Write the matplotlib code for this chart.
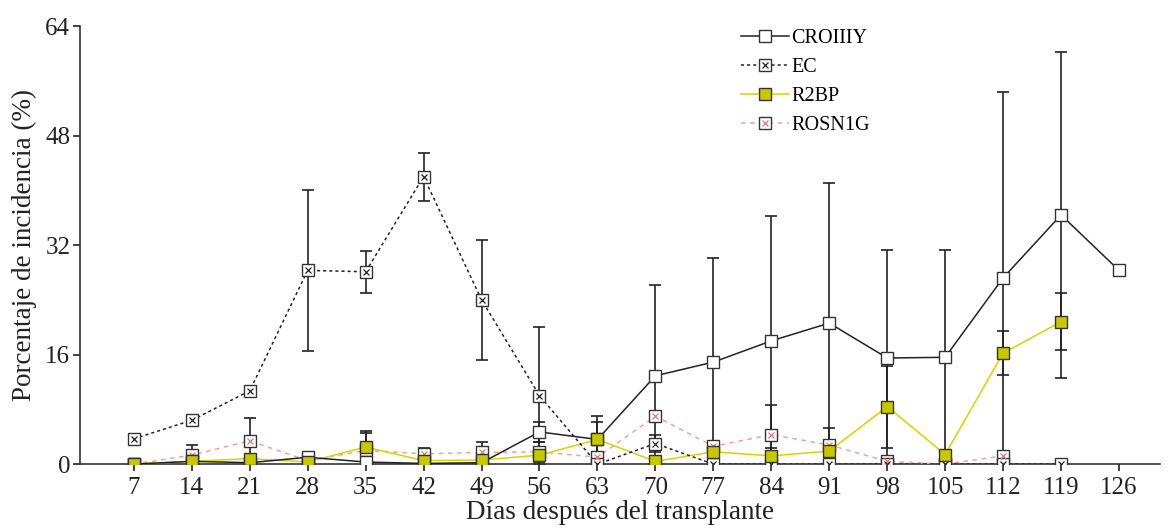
import matplotlib
matplotlib.use("Agg")
import matplotlib.pyplot as plt
from matplotlib.lines import Line2D
from matplotlib.legend_handler import HandlerTuple
import numpy as np

# days after transplant
dias = [7, 14, 21, 28, 35, 42, 49, 56, 63, 70, 77, 84, 91, 98, 105, 112, 119, 126]

croiiiy = [0, 0.4, 0.2, 1.0, 0.3, 0.1, 0.2, 4.7, 3.6, 12.9, 14.9, 18.0, 20.6, 15.5, 15.6, 27.2, 36.4, 28.3]
croiiiy_err = [0, 0, 0, 0, 0, 0, 0, 1.5, 3.4, 13.3, 15.2, 18.2, 20.5, 15.8, 15.7, 27.2, 23.8, 0]

ec = [3.7, 6.4, 10.7, 28.3, 28.1, 42.0, 24.0, 10.0, 0, 3.0, 0, 0, 0, 0, 0, 0, 0]
ec_err = [0, 0, 0.7, 11.8, 3.1, 3.5, 8.8, 10.0, 0, 1.3, 0, 0, 0, 0, 0, 0, 0]

r2bp = [0, 0.4, 0.8, 0.3, 2.5, 0.5, 0.6, 1.3, 3.6, 0.4, 1.8, 1.2, 1.9, 8.4, 1.4, 16.2, 20.8]
r2bp_err = [0, 0, 0, 0, 2.3, 0, 0, 0, 2.5, 0, 0, 1.2, 0, 6.0, 0, 3.2, 4.2]

rosn1g = [0, 1.3, 3.4, 0.5, 2.0, 1.5, 1.7, 1.8, 1.0, 7.0, 2.6, 4.3, 2.8, 0.4, 0, 1.2]
rosn1g_err = [0, 1.5, 3.4, 0, 2.6, 0.9, 1.5, 1.5, 0, 0, 0, 4.4, 2.5, 0, 0, 0]

plt.rcParams["font.family"] = ["Liberation Serif", "DejaVu Serif"]

fig = plt.figure(figsize=(11.68, 5.31), dpi=100)
ax = fig.add_axes([0.0685, 0.126, 0.925, 0.825])

edge = "#333333"
ms = 8


def draw_err(x, y, err):
    x = np.asarray(x[: len(y)], dtype=float)
    y = np.asarray(y, dtype=float)
    err = np.asarray(err, dtype=float)
    keep = err > 0
    ax.errorbar(x[keep], y[keep], yerr=err[keep], fmt="none", ecolor="#222222",
                elinewidth=1.2, capsize=4, capthick=1.2, zorder=2)


draw_err(dias, croiiiy, croiiiy_err)
draw_err(dias, ec, ec_err)
draw_err(dias, r2bp, r2bp_err)
draw_err(dias, rosn1g, rosn1g_err)

# ROSN1G
x_ro = dias[: len(rosn1g)]
ax.plot(x_ro, rosn1g, color="#f4a0a0", lw=1.1, ls=(0, (3, 3)), zorder=3)
ax.plot(x_ro, rosn1g, ls="none", marker="s", ms=ms, mfc="white", mec=edge, mew=1.0, zorder=4)
ax.plot(x_ro, rosn1g, ls="none", marker="x", ms=5, mec="#e87878", mew=0.9, zorder=5)

# R2BP
x_r2 = dias[: len(r2bp)]
ax.plot(x_r2, r2bp, color="#d4d400", lw=1.1, zorder=3)
ax.plot(x_r2, r2bp, ls="none", marker="s", ms=ms, mfc="#c8c800", mec=edge, mew=1.0, zorder=6)

# EC
x_ec = dias[: len(ec)]
ax.plot(x_ec, ec, color="#222222", lw=1.1, ls=(0, (2, 2)), zorder=3)
ax.plot(x_ec, ec, ls="none", marker="s", ms=ms, mfc="white", mec=edge, mew=1.0, zorder=4)
ax.plot(x_ec, ec, ls="none", marker="x", ms=5, mec="#222222", mew=0.9, zorder=5)

# CROIIIY
ax.plot(dias, croiiiy, color="#222222", lw=1.1, zorder=3)
ax.plot(dias, croiiiy, ls="none", marker="s", ms=ms, mfc="white", mec=edge, mew=1.0, zorder=4)

ax.set_xlim(0.5, 131)
ax.set_ylim(0, 64)
ax.set_xticks(dias)
ax.set_yticks([0, 16, 32, 48, 64])
ax.spines["top"].set_visible(False)
ax.spines["right"].set_visible(False)
for s in ("left", "bottom"):
    ax.spines[s].set_color("#333333")
    ax.spines[s].set_linewidth(1.2)
ax.tick_params(axis="both", labelsize=18, colors="#222222", length=5, width=1.2, pad=2)
ax.tick_params(axis="x", pad=4)
ax.set_xlabel("Días después del transplante", fontsize=19.5, color="#222222", labelpad=1)
ax.set_ylabel("Porcentaje de incidencia (%)", fontsize=19.5, color="#222222", labelpad=6)

# legend
h_cr = Line2D([], [], color="#222222", lw=1.1, marker="s", ms=ms, mfc="white", mec=edge)
h_ec = (Line2D([], [], color="#222222", lw=1.1, ls=(0, (2, 2)), marker="s", ms=ms, mfc="white", mec=edge),
        Line2D([], [], ls="none", marker="x", ms=5, mec="#222222", mew=0.9))
h_r2 = Line2D([], [], color="#d4d400", lw=1.1, marker="s", ms=ms, mfc="#c8c800", mec=edge)
h_ro = (Line2D([], [], color="#f4a0a0", lw=1.1, ls=(0, (3, 3)), marker="s", ms=ms, mfc="white", mec=edge),
        Line2D([], [], ls="none", marker="x", ms=5, mec="#e87878", mew=0.9))
ax.legend([h_cr, h_ec, h_r2, h_ro], ["CROIIIY", "EC", "R2BP", "ROSN1G"],
          handler_map={tuple: HandlerTuple(ndivide=1, pad=0)},
          loc="upper left", bbox_to_anchor=(0.595, 1.035), frameon=False,
          fontsize=14.5, handlelength=2.4, handletextpad=0.1, labelspacing=0.5)

fig.savefig("out.png", dpi=100)
